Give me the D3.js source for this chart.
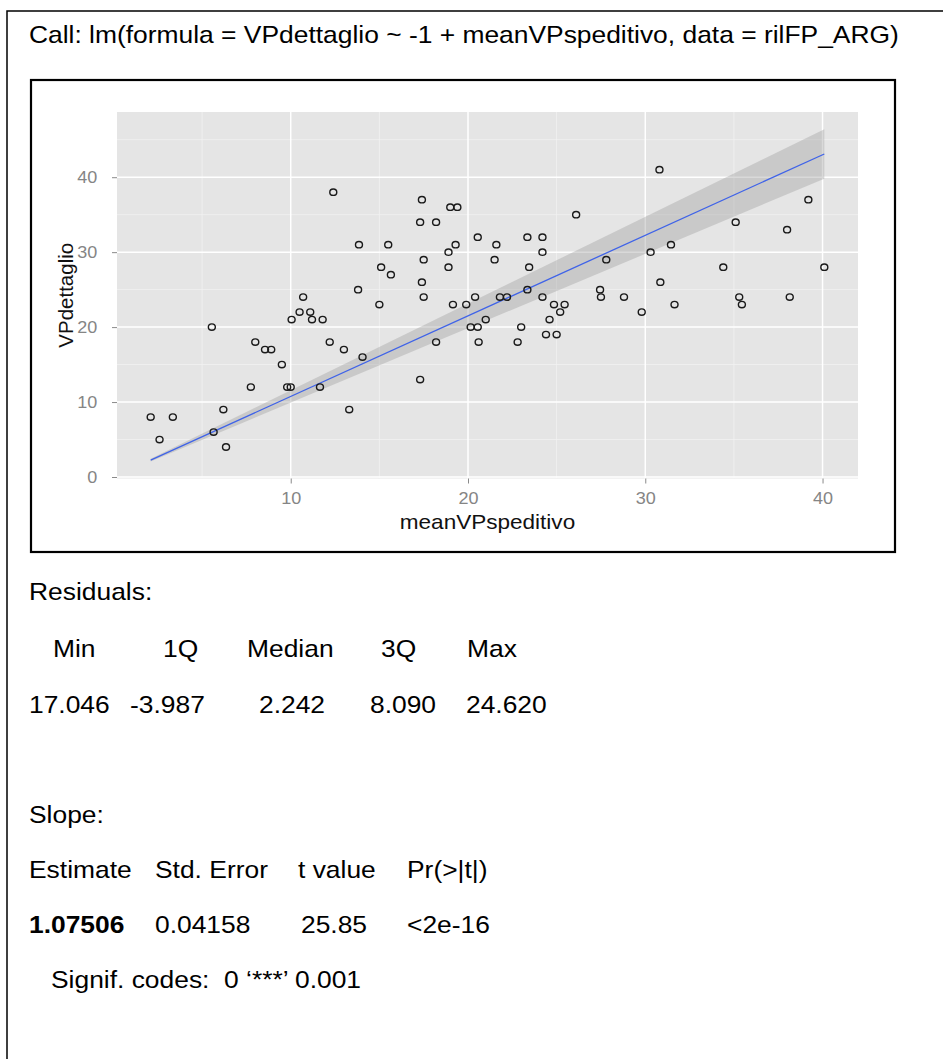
<!DOCTYPE html>
<html>
<head>
<meta charset="utf-8">
<script src="https://cdn.jsdelivr.net/npm/d3@7"></script>
<style>
  body { margin: 0; background: #fff; }
  svg text { font-family: Arial, "Liberation Sans", sans-serif; white-space: pre; }
</style>
</head>
<body>
<div id="chart"></div>
<script>
// Scatter of VPdettaglio vs meanVPspeditivo with lm fit through origin

// Data
const meanVPspeditivo = [2.1, 2.6, 3.35, 5.55, 5.65, 6.2, 6.35, 7.75, 8.0, 8.55,
  8.9, 9.5, 9.8, 10.0, 10.05, 10.5, 10.7, 11.1, 11.2, 11.65,
  11.8, 12.2, 12.4, 13.0, 13.3, 13.8, 13.85, 14.05, 15.0, 15.1,
  15.5, 15.65, 17.3, 17.3, 17.4, 17.4, 17.5, 17.5, 18.2, 18.2,
  18.9, 18.9, 19.0, 19.15, 19.3, 19.4, 19.9, 20.15, 20.4, 20.55,
  20.55, 20.6, 21.0, 21.5, 21.6, 21.8, 22.2, 22.8, 23.0, 23.35,
  23.35, 23.45, 24.2, 24.2, 24.2, 24.4, 24.6, 24.85, 25.0, 25.2,
  25.45, 26.1, 27.45, 27.5, 27.8, 28.8, 29.8, 30.3, 30.8, 30.85,
  31.45, 31.65, 34.4, 35.1, 35.3, 35.45, 38.0, 38.15, 39.2, 40.1];
const VPdettaglio = [8, 5, 8, 20, 6, 9, 4, 12, 18, 17,
  17, 15, 12, 12, 21, 22, 24, 22, 21, 12,
  21, 18, 38, 17, 9, 25, 31, 16, 23, 28,
  31, 27, 13, 34, 26, 37, 24, 29, 18, 34,
  28, 30, 36, 23, 31, 36, 23, 20, 24, 32,
  20, 18, 21, 29, 31, 24, 24, 18, 20, 32,
  25, 28, 32, 30, 24, 19, 21, 23, 19, 22,
  23, 35, 25, 24, 29, 24, 22, 30, 41, 26,
  31, 23, 28, 34, 24, 23, 33, 24, 37, 28];

// Fitted line and confidence band (ends of the smooth)
const fitX = [2.1, 40.1];
const fitY = [2.26, 43.1];
const bandLo = [2.08, 39.8];
const bandHi = [2.43, 46.4];

const xTicks = [10, 20, 30, 40];
const yTicks = [0, 10, 20, 30, 40];
const xMinor = [5, 15, 25, 35];
const yMinor = [5, 15, 25, 35, 45];

// Printed model summary
const callText = "Call: lm(formula = VPdettaglio ~ -1 + meanVPspeditivo, data = rilFP_ARG)";
const residHeads = ["Min", "1Q", "Median", "3Q", "Max"];
const residVals = ["17.046", "-3.987", "2.242", "8.090", "24.620"];
const slopeHeads = ["Estimate", "Std. Error", "t value", "Pr(>|t|)"];
const slopeVals = ["1.07506", "0.04158", "25.85", "<2e-16"];
const signifText = "Signif. codes:  0 \u2018***\u2019 0.001";

const W = 943, H = 1059;
const svg = d3.select("#chart").
append("svg").
attr("width", W).
attr("height", H);

svg.append("rect").attr("width", W).attr("height", H).attr("fill", "#fff");

// Outer frame (runs off the right and bottom)
svg.append("rect").
attr("x", 7).attr("y", 11).
attr("width", 950).attr("height", 1060).
attr("fill", "none").
attr("stroke", "#000").
attr("stroke-width", 1.5);

// Text helper, glyphs slightly wide as in the picture
const sx = 1.1;
function txt(s, x, y, size, weight) {
  return svg.append("text").
  attr("transform", `translate(${x},${y}) scale(${sx},1)`).
  attr("font-size", size).
  attr("font-weight", weight || "normal").
  attr("fill", "#000").
  text(s);
}

txt(callText, 29, 43, 24);

// Plot frame
svg.append("rect").
attr("x", 31).attr("y", 80).
attr("width", 864).attr("height", 472).
attr("fill", "#fff").
attr("stroke", "#000").
attr("stroke-width", 2.2);

// Panel
const pL = 117, pR = 858, pT = 112, pB = 478.5;

const xScale = d3.scaleLinear().
domain([0.2, 42.0]).
range([pL, pR]);

const yScale = d3.scaleLinear().
domain([-0.2, 48.7]).
range([pB, pT]);

const plot = svg.append("g");

plot.append("rect").
attr("x", pL).attr("y", pT).
attr("width", pR - pL).attr("height", pB - pT).
attr("fill", "#e5e5e5");

// Grid
plot.selectAll(".xminor").data(xMinor).join("line").
attr("x1", d => xScale(d)).attr("x2", d => xScale(d)).
attr("y1", pT).attr("y2", pB).
attr("stroke", "#f2f2f2").attr("stroke-width", 0.8);

plot.selectAll(".yminor").data(yMinor).join("line").
attr("y1", d => yScale(d)).attr("y2", d => yScale(d)).
attr("x1", pL).attr("x2", pR).
attr("stroke", "#f2f2f2").attr("stroke-width", 0.8);

plot.selectAll(".xmajor").data(xTicks).join("line").
attr("x1", d => xScale(d)).attr("x2", d => xScale(d)).
attr("y1", pT).attr("y2", pB).
attr("stroke", "#fff").attr("stroke-width", 1.5);

plot.selectAll(".ymajor").data(yTicks).join("line").
attr("y1", d => yScale(d)).attr("y2", d => yScale(d)).
attr("x1", pL).attr("x2", pR).
attr("stroke", "#fff").attr("stroke-width", 1.5);

// Confidence band and fitted line
const idx = d3.range(fitX.length);

plot.append("path").
datum(idx).
attr("fill", "#a0a0a0").
attr("fill-opacity", 0.4).
attr("d", d3.area().
x(i => xScale(fitX[i])).
y0(i => yScale(bandLo[i])).
y1(i => yScale(bandHi[i])));

plot.append("path").
datum(idx).
attr("fill", "none").
attr("stroke", "#3f63e8").
attr("stroke-width", 1.3).
attr("d", d3.line().
x(i => xScale(fitX[i])).
y(i => yScale(fitY[i])));

// Points
plot.selectAll("ellipse").
data(meanVPspeditivo.map((x, i) => [x, VPdettaglio[i]])).
join("ellipse").
attr("cx", d => xScale(d[0])).
attr("cy", d => yScale(d[1])).
attr("rx", 3.5).
attr("ry", 3.2).
attr("fill", "none").
attr("stroke", "#1a1a1a").
attr("stroke-width", 1.4);

// Axes
const xAxis = svg.append("g").
attr("transform", `translate(0 ${pB})`).
call(d3.axisBottom(xScale).tickValues(xTicks).tickSize(5).tickPadding(9));

const yAxis = svg.append("g").
attr("transform", `translate(${pL} 0)`).
call(d3.axisLeft(yScale).tickValues(yTicks).tickSize(5).tickPadding(13));

[xAxis, yAxis].forEach(ax => {
  ax.select(".domain").remove();
  ax.selectAll(".tick line").attr("stroke", "#8a8a8a");
  ax.selectAll(".tick text").
  attr("fill", "#858585").
  attr("font-size", 16.4).
  attr("font-family", "Arial, 'Liberation Sans', sans-serif").
  attr("transform", `scale(${sx},1)`);
});

svg.append("text").
attr("x", (pL + pR) / 2 / sx).
attr("y", 529).
attr("transform", `scale(${sx},1)`).
attr("text-anchor", "middle").
attr("font-size", 20.5).
attr("fill", "#111").
text("meanVPspeditivo");

svg.append("text").
attr("transform", `translate(73 ${(pT + pB) / 2}) rotate(-90)`).
attr("text-anchor", "middle").
attr("font-size", 20.5).
attr("fill", "#111").
text("VPdettaglio");

// Summary below the plot
txt("Residuals:", 29, 600, 24);

const residHeadX = [53, 163, 247, 381, 467];
const residValX = [29, 130, 259, 370, 466];
residHeads.forEach((s, i) => txt(s, residHeadX[i], 657, 24));
residVals.forEach((s, i) => txt(s, residValX[i], 713, 24));

txt("Slope:", 29, 823, 24);

const slopeHeadX = [29, 155, 298, 407];
const slopeValX = [29, 155, 301, 407];
slopeHeads.forEach((s, i) => txt(s, slopeHeadX[i], 878, 24));
slopeVals.forEach((s, i) => txt(s, slopeValX[i], 933, 24, i === 0 ? "bold" : "normal"));

txt(signifText, 51, 988, 24);
</script>
</body>
</html>
